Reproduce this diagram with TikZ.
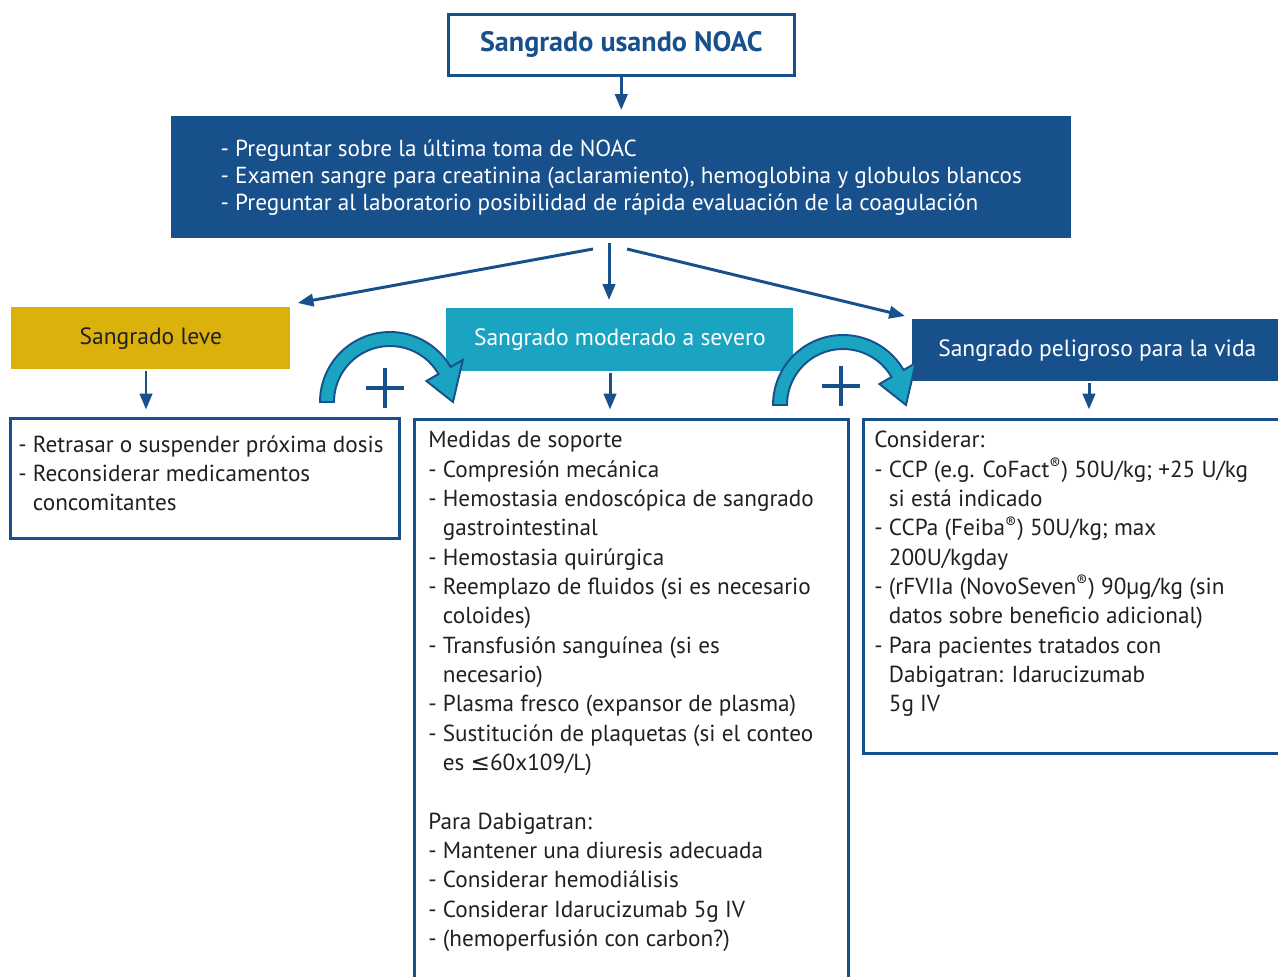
\documentclass[tikz,border=0pt]{standalone}
\usepackage{fontspec}
\setmainfont{PT Sans}
\newfontfamily\simbolos{DejaVu Sans}
\usetikzlibrary{arrows.meta}

\definecolor{azulNOAC}{RGB}{24,80,140}
\definecolor{turquesa}{RGB}{27,163,194}
\definecolor{dorado}{RGB}{219,177,12}
\definecolor{texto}{RGB}{35,31,32}

\newcommand{\sangria}{\phantom{-}\ }
\newcommand{\reg}{\textsuperscript{®}}

\begin{document}
\begin{tikzpicture}[x=0.02cm, y=0.02cm,
	flecha/.style={draw=azulNOAC, line width=1.7pt, -{Triangle[length=9pt,width=7pt]}},
	cabecera/.style={anchor=north west, inner sep=0pt, font=\fontsize{13.4}{15}\selectfont},
	caja/.style={draw=azulNOAC, line width=1.5pt, fill=white, anchor=north west, inner sep=0pt},
	lista/.style={anchor=north west, inner sep=0pt, align=left, text=texto, font=\fontsize{13.2}{16.7}\selectfont},
	curva/.style={fill=turquesa, draw=azulNOAC, line width=1.1pt},
	mas/.style={draw=azulNOAC, line width=2.8pt}]

\useasboundingbox (0,0) rectangle (1278,-977);
\clip (0,0) rectangle (1278,-977);

% Titulo y pasos iniciales
\node[caja, minimum width=6.92cm, minimum height=1.22cm, text=azulNOAC, font=\bfseries\fontsize{16}{18}\selectfont] (titulo) at (447,-13) {Sangrado usando NOAC};

\node[anchor=north west, fill=azulNOAC, text=white, minimum width=18cm, minimum height=2.44cm, inner sep=0pt, align=left, font=\fontsize{13.2}{15.3}\selectfont] (pasos) at (171,-116)
	{- Preguntar sobre la última toma de NOAC\\
	 - Examen sangre para creatinina (aclaramiento), hemoglobina y globulos blancos\\
	 - Preguntar al laboratorio posibilidad de rápida evaluación de la coagulación};

\draw[flecha, shorten >=0.12cm] (titulo.south) -- (titulo.south |- pasos.north);

% Cabeceras
\node[cabecera, fill=dorado, text=texto, minimum width=5.58cm, minimum height=1.24cm] (hLeve) at (11,-307) {Sangrado leve};
\node[cabecera, fill=turquesa, text=white, minimum width=6.94cm, minimum height=1.26cm] (hModerado) at (446,-308) {Sangrado moderado a severo};
\node[cabecera, fill=azulNOAC, text=white, minimum width=7.40cm, minimum height=1.24cm] (hPeligro) at (912,-319) {Sangrado peligroso para la vida};

\coordinate (sIzq) at (593,-249);
\coordinate (sCen) at (609,-243);
\coordinate (sDer) at (627,-249);
\draw[flecha] (sIzq) -- ([shift={(7,4)}]hLeve.north east);
\draw[flecha, shorten >=0.16cm] (sCen) -- (sCen |- hModerado.north);
\draw[flecha] (sDer) -- ([shift={(-7,3)}]hPeligro.north west);

% Cajas
\node[caja, minimum width=7.78cm, minimum height=2.4cm] (bLeve) at (9,-417) {};
\node[caja, minimum width=8.68cm, minimum height=11.44cm] (bModerado) at (413,-418) {};
\node[caja, minimum width=8.56cm, minimum height=6.68cm] (bPeligro) at (862,-418) {};

\coordinate (bajaLeve) at (146,-371);
\coordinate (bajaModerado) at (610,-373);
\coordinate (bajaPeligro) at (1089,-383);
\foreach \c in {bajaLeve, bajaModerado, bajaPeligro}
	\draw[flecha, shorten >=0.17cm] (\c) -- (\c |- bModerado.north);

% Flechas curvas con signo +
\foreach \cx/\cy/\px/\py in {390/-402/385/-388, 843/-405/841/-386} {
	\filldraw[curva] (\cx-70,\cy) arc[start angle=180, end angle=30, radius=70]
		-- ([shift={(\cx,\cy)}]30:84) -- (\cx+63,\cy) -- ([shift={(\cx,\cy)}]30:42)
		-- ([shift={(\cx,\cy)}]30:56) arc[start angle=30, end angle=180, radius=56] -- cycle;
	\draw[mas] (\px-19,\py) -- (\px+19,\py) (\px,\py-20) -- (\px,\py+20);
}

% Textos
\node[lista] (tLeve) at (18,-435)
	{- Retrasar o suspender próxima dosis\\
	 - Reconsiderar medicamentos\\
	 \sangria concomitantes};

\node[lista] (tModerado) at (428,-431)
	{Medidas de soporte\\
	 - Compresión mecánica\\
	 - Hemostasia endoscópica de sangrado\\
	 \sangria gastrointestinal\\
	 - Hemostasia quirúrgica\\
	 - Reemplazo de fluidos (si es necesario\\
	 \sangria coloides)\\
	 - Transfusión sanguínea (si es\\
	 \sangria necesario)\\
	 - Plasma fresco (expansor de plasma)\\
	 - Sustitución de plaquetas (si el conteo\\
	 \sangria es {\simbolos ≤}60x109/L)\\
	 \\
	 Para Dabigatran:\\
	 - Mantener una diuresis adecuada\\
	 - Considerar hemodiálisis\\
	 - Considerar Idarucizumab 5g IV\\
	 - (hemoperfusión con carbon?)};

\node[lista] (tPeligro) at (874,-431)
	{Considerar:\\
	 - CCP (e.g. CoFact\reg) 50U/kg; +25 U/kg\\
	 \sangria si está indicado\\
	 - CCPa (Feiba\reg) 50U/kg; max\\
	 \sangria 200U/kgday\\
	 - (rFVIIa (NovoSeven\reg) 90µg/kg (sin\\
	 \sangria datos sobre beneficio adicional)\\
	 - Para pacientes tratados con\\
	 \sangria Dabigatran: Idarucizumab\\
	 \sangria 5g IV};
\end{tikzpicture}
\end{document}
